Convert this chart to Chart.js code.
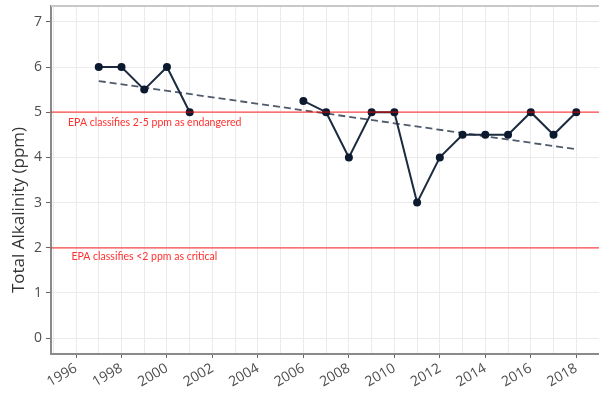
<!DOCTYPE html>
<html>
<head>
<meta charset="utf-8">
<script src="https://cdn.jsdelivr.net/npm/chart.js@4/dist/chart.umd.min.js"></script>
<style>
  html, body { margin: 0; padding: 0; background: #fff; }
  canvas { display: block; }
</style>
</head>
<body>
<canvas id="chart" width="599" height="396"></canvas>
<script>
// data
const years = [1997, 1998, 1999, 2000, 2001, 2002, 2003, 2004, 2005, 2006, 2007, 2008, 2009, 2010, 2011, 2012, 2013, 2014, 2015, 2016, 2017, 2018];
const alkalinity = [6, 6, 5.5, 6, 5, null, null, null, null, 5.25, 5, 4, 5, 5, 3, 4, 4.5, 4.5, 4.5, 5, 4.5, 5];
const trendYears = [1997, 2018];
const trendValues = [5.69, 4.18];
const refLevels = [5, 2];
const notes = [
    { text: 'EPA classifies 2-5 ppm as endangered', x: 1995.65, y: 4.78 },
    { text: 'EPA classifies <2 ppm as critical', x: 1995.8, y: 1.8 }
];
const yTitle = 'Total Alkalinity (ppm)';

const tickFont = { family: 'Open Sans', size: 14 };

const extras = {
    id: 'extras',
    afterDatasetsDraw(chart) {
        const { ctx, chartArea: a, scales } = chart;
        ctx.save();
        // reference lines on top of the series, semi transparent
        ctx.strokeStyle = 'rgba(255,0,0,0.5)';
        ctx.lineWidth = 1.8;
        refLevels.forEach(v => {
            const y = scales.y.getPixelForValue(v);
            ctx.beginPath();
            ctx.moveTo(a.left, y);
            ctx.lineTo(a.right, y);
            ctx.stroke();
        });
        ctx.fillStyle = '#ff3030';
        ctx.font = '10.5px Lato';
        ctx.textAlign = 'left';
        ctx.textBaseline = 'middle';
        notes.forEach(n => {
            ctx.fillText(n.text, scales.x.getPixelForValue(n.x), scales.y.getPixelForValue(n.y));
        });
        // top frame line
        ctx.strokeStyle = '#c8c8c8';
        ctx.lineWidth = 2;
        ctx.beginPath();
        ctx.moveTo(a.left, a.top);
        ctx.lineTo(a.right, a.top);
        ctx.stroke();
        // y axis title
        ctx.translate(19, 210);
        ctx.rotate(-Math.PI / 2);
        ctx.fillStyle = '#333';
        ctx.font = '17px "Open Sans"';
        ctx.textAlign = 'center';
        ctx.fillText(yTitle, 0, 0);
        ctx.restore();
    }
};

new Chart(document.getElementById('chart'), {
    type: 'line',
    data: {
        datasets: [
            {
                data: years.map((yr, i) => ({ x: yr, y: alkalinity[i] })),
                borderColor: '#1c2b3f',
                borderWidth: 2,
                pointRadius: 4,
                pointBorderWidth: 0,
                pointBackgroundColor: '#0b1a2e',
                pointBorderColor: '#0b1a2e',
                spanGaps: false,
                tension: 0,
                order: 1
            },
            {
                data: trendYears.map((yr, i) => ({ x: yr, y: trendValues[i] })),
                borderColor: '#4f5b6b',
                borderWidth: 1.8,
                borderDash: [7, 4],
                pointRadius: 0,
                order: 2
            }
        ]
    },
    options: {
        responsive: false,
        animation: false,
        layout: { autoPadding: false, padding: { top: 6, right: 0, left: 0, bottom: 0 } },
        plugins: { legend: { display: false }, tooltip: { enabled: false } },
        scales: {
            x: {
                type: 'linear',
                min: 1994.9,
                max: 2019.0,
                afterFit(s) { s.height = 42; s.paddingLeft = 0; s.paddingRight = 0; },
                ticks: {
                    stepSize: 1,
                    includeBounds: false,
                    autoSkip: false,
                    minRotation: 30,
                    maxRotation: 30,
                    padding: 2,
                    color: '#4d4d4d',
                    font: tickFont,
                    callback: v => (v % 2 === 0 ? String(v) : '')
                },
                grid: {
                    color: '#ebebeb',
                    lineWidth: 1,
                    tickLength: 4,
                    tickColor: c => (c.tick && c.tick.value % 2 === 0 ? '#666' : 'rgba(0,0,0,0)')
                },
                border: { color: '#8a8a8a', width: 2 }
            },
            y: {
                min: -0.35,
                max: 7.35,
                afterFit(s) { s.width = 51; s.paddingTop = 0; s.paddingBottom = 0; },
                ticks: {
                    stepSize: 1,
                    includeBounds: false,
                    padding: 4,
                    color: '#4d4d4d',
                    font: tickFont,
                    callback: v => String(v)
                },
                grid: { color: '#ebebeb', lineWidth: 1, tickLength: 5, tickColor: '#666' },
                border: { color: '#8a8a8a', width: 2 }
            }
        }
    },
    plugins: [extras]
});
</script>
</body>
</html>
